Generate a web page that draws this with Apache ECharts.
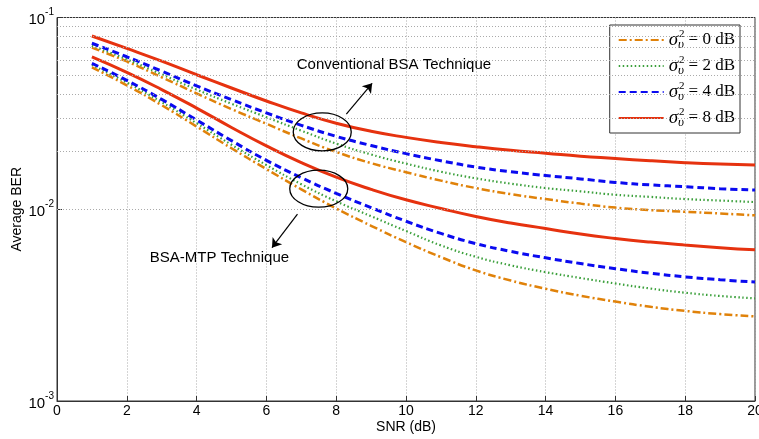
<!DOCTYPE html>
<html>
<head>
<meta charset="utf-8">
<script src="https://cdn.jsdelivr.net/npm/echarts@6/dist/echarts.min.js"></script>
<style>
  html, body { margin: 0; padding: 0; background: #fff; }
  #chart { width: 759px; height: 439px; }
</style>
</head>
<body>
<div id="chart"></div>
<script>
// SNR (dB)
var snr = [1, 2, 3, 4, 5, 6, 7, 8, 9, 10, 11, 12, 13, 14, 15, 16, 17, 18, 19, 20];

// Conventional BSA technique
var conv0 = [0.0696, 0.0590, 0.0488, 0.0402, 0.0333, 0.0279, 0.0234, 0.0199, 0.0174, 0.0156, 0.0141, 0.0129, 0.0120, 0.0113, 0.0107, 0.0102, 0.0099, 0.0097, 0.0095, 0.0093];
var conv2 = [0.0713, 0.0605, 0.0505, 0.0421, 0.0355, 0.0302, 0.0257, 0.0220, 0.0193, 0.0173, 0.0157, 0.0145, 0.0136, 0.0129, 0.0124, 0.0119, 0.0116, 0.0113, 0.0111, 0.0109];
var conv4 = [0.0734, 0.0624, 0.0525, 0.0440, 0.0373, 0.0318, 0.0274, 0.0240, 0.0215, 0.0195, 0.0179, 0.0166, 0.0157, 0.0150, 0.0144, 0.0138, 0.0134, 0.0131, 0.0128, 0.0126];
var conv8 = [0.0801, 0.0690, 0.0592, 0.0503, 0.0429, 0.0367, 0.0318, 0.0281, 0.0255, 0.0237, 0.0223, 0.0212, 0.0203, 0.0196, 0.0189, 0.0184, 0.0179, 0.0175, 0.0172, 0.0170];

// BSA-MTP technique
var mtp0 = [0.0550, 0.0443, 0.0349, 0.0270, 0.0208, 0.0162, 0.0127, 0.0101, 0.00820, 0.00674, 0.00563, 0.00480, 0.00425, 0.00385, 0.00354, 0.00330, 0.00310, 0.00295, 0.00284, 0.00276];
var mtp2 = [0.0565, 0.0458, 0.0362, 0.0281, 0.0217, 0.0170, 0.0135, 0.0110, 0.00920, 0.00770, 0.00648, 0.00565, 0.00510, 0.00470, 0.00438, 0.00410, 0.00386, 0.00367, 0.00353, 0.00343];
var mtp4 = [0.0577, 0.0470, 0.0374, 0.0292, 0.0228, 0.0180, 0.0146, 0.0121, 0.0102, 0.00866, 0.00748, 0.00662, 0.00603, 0.00558, 0.00521, 0.00490, 0.00464, 0.00444, 0.00429, 0.00417];
var mtp8 = [0.0624, 0.0518, 0.0421, 0.0337, 0.0267, 0.0214, 0.0175, 0.0147, 0.0127, 0.0112, 0.0101, 0.00917, 0.00847, 0.00793, 0.00742, 0.00704, 0.00674, 0.00650, 0.00630, 0.00614];

var legendNames = ['0 dB', '2 dB', '4 dB', '8 dB'];

// minor grid lines of the log axis
var minorTicks = [0.002, 0.003, 0.004, 0.005, 0.006, 0.007, 0.008, 0.009,
                  0.02, 0.03, 0.04, 0.05, 0.06, 0.07, 0.08, 0.09];

// annotations [x, y]
var convEllipse = [7.6, 0.0253];
var mtpEllipse = [7.5, 0.0128];
var convArrow = [[8.29, 0.0313], [9.03, 0.0454]];
var mtpArrow = [[6.89, 0.00944], [6.16, 0.00630]];
var convText = [6.87, 0.0565];
var mtpText = [2.66, 0.00556];

var styles = {
  '0 dB': { color: '#E0820A', type: [8, 3, 2, 3], width: 2.5 },
  '2 dB': { color: '#3CA03C', type: [1.5, 2.5], width: 2.2 },
  '4 dB': { color: '#0A0AF0', type: [7, 4], width: 3 },
  '8 dB': { color: '#E6320F', type: 'solid', width: 3 }
};

function pairs(ys) {
  return snr.map(function (x, i) { return [x, ys[i]]; });
}

function curve(name, ys) {
  var s = styles[name];
  return {
    name: name,
    type: 'line',
    data: pairs(ys),
    smooth: true,
    showSymbol: false,
    symbol: 'none',
    color: s.color,
    lineStyle: { color: s.color, type: s.type, width: s.width }
  };
}

var chart = echarts.init(document.getElementById('chart'));

var option = {
  animation: false,
  backgroundColor: '#fff',
  grid: {
    left: 57, right: 4, top: 17.5, bottom: 38,
    outerBoundsMode: 'none',
    containLabel: false,
    show: true, borderColor: '#333', borderWidth: 1
  },
  legend: {
    data: legendNames,
    orient: 'vertical',
    right: 19,
    top: 25,
    padding: [4, 5, 4, 8],
    itemGap: 4,
    itemWidth: 45,
    itemHeight: 14,
    borderColor: '#333',
    borderWidth: 1,
    borderRadius: 0,
    backgroundColor: '#fff',
    itemStyle: { opacity: 0 },
    formatter: function (name) {
      return '{s|σ}{u|υ}{p|2}{t|= ' + name + '}';
    },
    textStyle: {
      rich: {
        s: { fontFamily: 'Liberation Serif', fontStyle: 'italic', fontSize: 19, lineHeight: 22, color: '#000' },
        u: { fontFamily: 'Liberation Serif', fontStyle: 'italic', fontSize: 13, width: 0, verticalAlign: 'bottom', color: '#000' },
        p: { fontFamily: 'Liberation Serif', fontSize: 11, verticalAlign: 'top', color: '#000', padding: [0, 4, 0, 1] },
        t: { fontFamily: 'Liberation Serif', fontSize: 17, lineHeight: 22, color: '#000' }
      }
    }
  },
  xAxis: {
    type: 'value',
    min: 0, max: 20, interval: 2,
    name: 'SNR (dB)',
    nameLocation: 'middle',
    nameGap: 19,
    nameMoveOverlap: false,
    nameTextStyle: { fontFamily: 'Liberation Sans', fontSize: 14, color: '#000' },
    axisLine: { lineStyle: { color: '#333' } },
    axisTick: { inside: true, length: 5, lineStyle: { color: '#333' } },
    axisLabel: { fontFamily: 'Liberation Sans', fontSize: 14, color: '#000', margin: 3 },
    splitLine: { show: true, lineStyle: { color: '#aaa', type: [1, 2] } }
  },
  yAxis: {
    type: 'log',
    logBase: 10,
    min: 0.001, max: 0.1,
    name: 'Average BER',
    nameLocation: 'middle',
    nameGap: 33,
    nameMoveOverlap: false,
    nameTextStyle: { fontFamily: 'Liberation Sans', fontSize: 14, color: '#000' },
    axisLine: { show: true, lineStyle: { color: '#333' } },
    axisTick: { inside: true, length: 5, lineStyle: { color: '#333' } },
    axisLabel: {
      margin: 3,
      formatter: function (v) {
        var e = Math.round(Math.log10(v));
        return '{b|10}{s|' + e + '}';
      },
      rich: {
        b: { fontFamily: 'Liberation Sans', fontSize: 15, lineHeight: 20, verticalAlign: 'bottom', color: '#000' },
        s: { fontFamily: 'Liberation Sans', fontSize: 10, verticalAlign: 'top', color: '#000' }
      }
    },
    splitLine: { show: true, lineStyle: { color: '#aaa', type: [1, 2] } }
  },
  series: [
    curve('0 dB', conv0), curve('2 dB', conv2), curve('4 dB', conv4), curve('8 dB', conv8),
    curve('0 dB', mtp0), curve('2 dB', mtp2), curve('4 dB', mtp4), curve('8 dB', mtp8),
    {
      name: 'grid',
      type: 'line',
      data: [],
      silent: true,
      z: 1,
      markLine: {
        silent: true,
        symbol: 'none',
        label: { show: false },
        lineStyle: { color: '#aaa', type: [1, 2], width: 1 },
        data: minorTicks.map(function (v) { return { yAxis: v }; })
      }
    },
    {
      name: 'arrows',
      type: 'line',
      data: [],
      silent: true,
      markLine: {
        silent: true,
        symbol: ['none', 'arrow'],
        symbolSize: 9,
        label: { show: false },
        lineStyle: { color: '#000', type: 'solid', width: 1.2 },
        data: [
          [{ coord: convArrow[0] }, { coord: convArrow[1] }],
          [{ coord: mtpArrow[0] }, { coord: mtpArrow[1] }]
        ]
      }
    }
  ]
};

chart.setOption(option);

// ellipses and labels placed through the axes
var pc = chart.convertToPixel({ gridIndex: 0 }, convEllipse);
var pm = chart.convertToPixel({ gridIndex: 0 }, mtpEllipse);
var tc = chart.convertToPixel({ gridIndex: 0 }, convText);
var tm = chart.convertToPixel({ gridIndex: 0 }, mtpText);

chart.setOption({
  graphic: [
    { type: 'ellipse', shape: { cx: pc[0], cy: pc[1], rx: 29, ry: 19 }, style: { fill: 'none', stroke: '#000', lineWidth: 1.3 }, z: 100 },
    { type: 'ellipse', shape: { cx: pm[0], cy: pm[1], rx: 29, ry: 18.5 }, style: { fill: 'none', stroke: '#000', lineWidth: 1.3 }, z: 100 },
    { type: 'text', x: tc[0], y: tc[1], style: { text: 'Conventional BSA Technique', font: '15px "Liberation Sans"', fill: '#000', verticalAlign: 'middle' }, z: 100 },
    { type: 'text', x: tm[0], y: tm[1], style: { text: 'BSA-MTP Technique', font: '15px "Liberation Sans"', fill: '#000', verticalAlign: 'middle' }, z: 100 }
  ]
});
</script>
</body>
</html>
